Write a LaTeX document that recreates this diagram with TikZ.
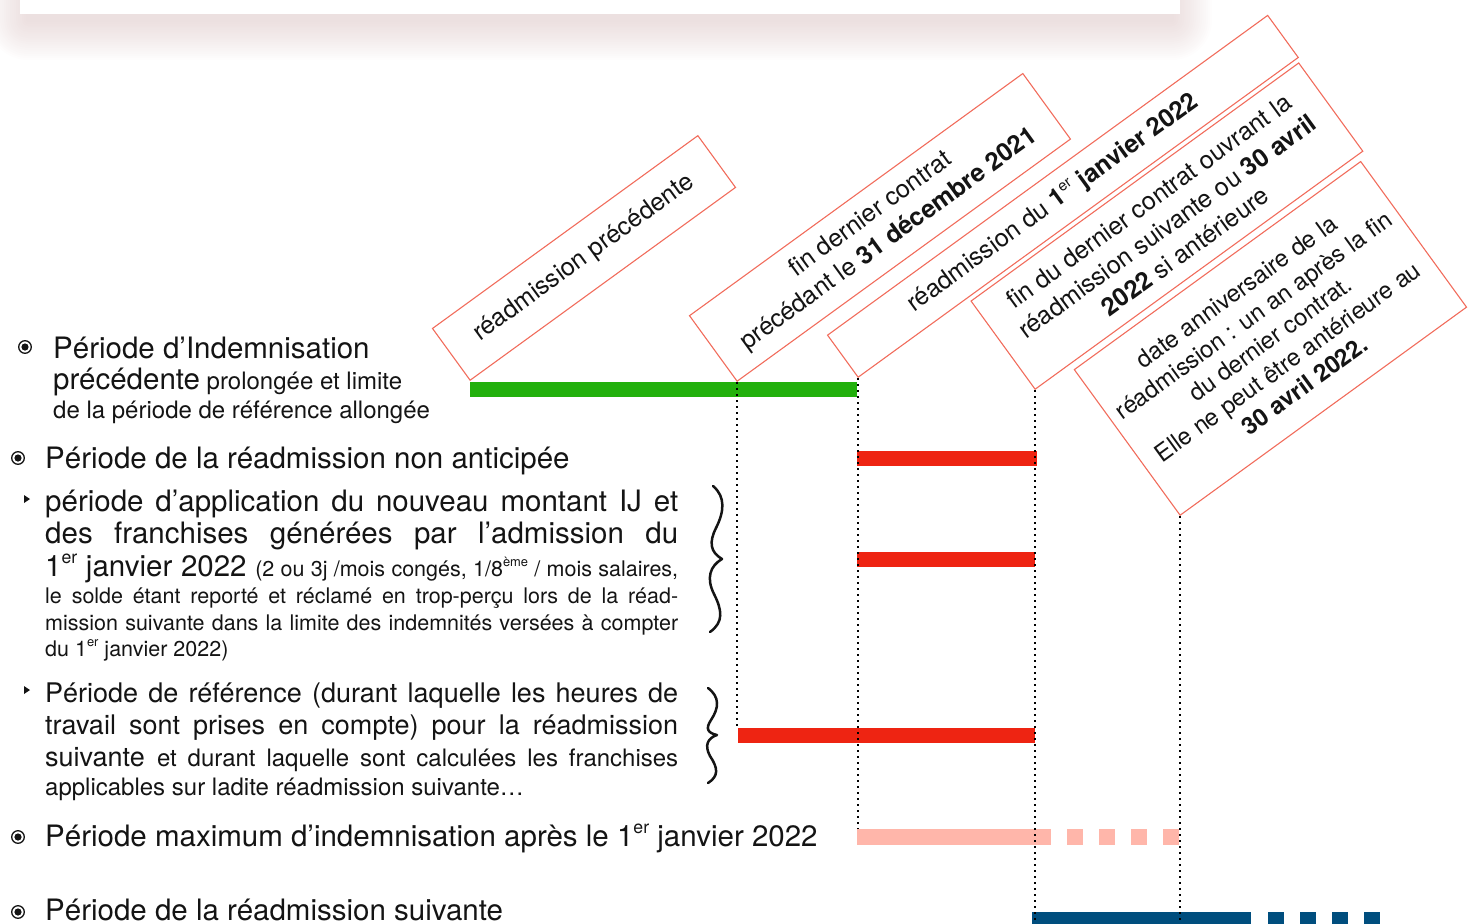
\documentclass[tikz,border=0pt]{standalone}
\usepackage{fontspec}
\setmainfont{TeX Gyre Heros}
\usepackage{graphicx}
\definecolor{greenc}{RGB}{34,176,12}
\definecolor{redc}{RGB}{238,36,18}
\definecolor{pinkc}{RGB}{255,182,170}
\definecolor{bluec}{RGB}{0,78,126}
\definecolor{boxc}{RGB}{241,108,92}
\definecolor{ink}{RGB}{20,20,20}
\definecolor{shadowc}{RGB}{205,172,172}
\newcommand\fbig{\fontsize{29.5}{35}\selectfont}
\newcommand\fmid{\fontsize{27}{32}\selectfont}
\newcommand\fsm{\fontsize{24}{28}\selectfont}
\newcommand\fxs{\fontsize{21.5}{26}\selectfont}
\newcommand\expo[1]{\raisebox{0.8ex}{\scalebox{0.6}{#1}}}
\newcommand\jline[1]{\makebox[633pt][s]{#1}}
\begin{document}
\begin{tikzpicture}[x=1pt,y=-1pt,
  txt/.style={anchor=base west, inner sep=0pt, text=ink},
  tbox/.style={draw=boxc, line width=1.1pt, rotate=36, anchor=south west, align=center, inner sep=0pt, text=ink, font=\fontsize{25}{31}\selectfont},
  dotline/.style={line width=1.6pt, dash pattern=on 1.6pt off 4.4pt, black},
  bullet/.style={line width=1.3pt, ink}]
\useasboundingbox (0,0) rectangle (1468,924);

% top card with soft shadow
\foreach \rr in {2,4,...,40}{
  \fill[shadowc, opacity=0.025, rounded corners=\rr pt] ({28-\rr},{-10-\rr}) rectangle ({1172+\rr},{20+\rr});
}
\fill[white] (20,-5) rectangle (1180,14);

% rotated boxes
\node[tbox, minimum width=328pt, minimum height=64pt] (b1) at (470,381) {réadmission précédente};
\node[tbox, minimum width=412pt, minimum height=81pt] (b2) at (737,382) {fin dernier contrat\\précédant le \textbf{31 décembre 2021}};
\node[tbox, minimum width=544pt, minimum height=52pt] (b3) at (858,378) {réadmission du \textbf{1}\expo{er} \textbf{janvier 2022}\hspace*{24pt}};
\node[tbox, minimum width=405pt, minimum height=109pt] (b4) at (1035,390) {fin du dernier contrat ouvrant la\\réadmission suivante ou \textbf{30 avril}\\\textbf{2022} si antérieure};
\node[tbox, minimum width=354pt, minimum height=180pt, font=\fontsize{24}{29}\selectfont] (b5) at (1180,516) {date anniversaire de la\\réadmission : un an après la fin\\du dernier contrat.\\Elle ne peut être antérieure au\\\textbf{30 avril 2022.}};

% bars
\fill[greenc] (470,382) rectangle (857,397);
\fill[redc] (857,451) rectangle (1037,466);
\fill[redc] (857,552) rectangle (1035,567);
\fill[redc] (738,728) rectangle (1035,743);
\fill[pinkc] (857,829) rectangle (1051,845);
\foreach \xx in {1067,1099,1131,1163}{\fill[pinkc] (\xx,829) rectangle ({\xx+16},845);}
\fill[bluec] (1032,912) rectangle (1251,924);
\foreach \xx in {1268,1300,1332,1364}{\fill[bluec] (\xx,912) rectangle ({\xx+16},924);}

% dotted guides
\coordinate (e2) at (737,728);
\coordinate (e3) at (858,829);
\coordinate (e4) at (1035,924);
\coordinate (e5) at (1180,924);
\draw[dotline] (b2.south west) -- (e2);
\draw[dotline] (b3.south west) -- (e3);
\draw[dotline] (b4.south west) -- (e4);
\draw[dotline] (b5.south west) -- (e5);

% bullets
\foreach \bx/\by in {25/347,18/458,18/837,18/912}{
  \draw[bullet] (\bx,\by) circle (6.3pt);
  \fill[ink] (\bx,\by) circle (3.6pt);
}
\fill[ink] (24,495) -- (30,499) -- (24,503) -- cycle;
\fill[ink] (24,686) -- (30,690) -- (24,694) -- cycle;

% braces
\draw[ink, line width=2.5pt, line cap=round, line join=round]
  (713,486) .. controls (726,497) and (724,512) .. (716,528)
  .. controls (709,542) and (710,552) .. (722,559)
  .. controls (710,566) and (706,578) .. (714,594)
  .. controls (722,610) and (724,622) .. (710,632);
\draw[ink, line width=2.5pt, line cap=round, line join=round]
  (708,688) .. controls (720,697) and (719,708) .. (711,720)
  .. controls (705,729) and (708,733) .. (717,735)
  .. controls (708,738) and (704,745) .. (710,756)
  .. controls (718,768) and (719,776) .. (708,783);

% left texts
\node[txt] (l1) at (53,358) {\fbig Période d’Indemnisation};
\node[txt] (l2) at (53,389) {\fbig précédente{\fsm{} prolongée et limite}};
\node[txt] (l3) at (53,418) {\fsm de la période de référence allongée};
\node[txt] (l4) at (45,468) {\fbig Période de la réadmission non anticipée};
\node[txt] (l5) at (45,511) {\jline{\fbig période d’application du nouveau montant IJ et}};
\node[txt] (l6) at (45,543) {\jline{\fbig des franchises générées par l’admission du}};
\node[txt] (l7) at (45,576) {\jline{\fbig 1\expo{er} janvier 2022 \fxs (2 ou 3j /mois congés, 1/8\expo{ème} / mois salaires,}};
\node[txt] (l8) at (45,603) {\jline{\fxs le solde étant reporté et réclamé en trop-perçu lors de la réad-}};
\node[txt] (l9) at (45,630) {\jline{\fxs mission suivante dans la limite des indemnités versées à compter}};
\node[txt] (l10) at (45,656) {\fxs du 1\expo{er} janvier 2022)};
\node[txt] (l11) at (45,702) {\jline{\fmid Période de référence (durant laquelle les heures de}};
\node[txt] (l12) at (45,734) {\jline{\fmid travail sont prises en compte) pour la réadmission}};
\node[txt] (l13) at (45,766) {\jline{\fmid suivante \fsm et durant laquelle sont calculées les franchises}};
\node[txt] (l14) at (45,795) {\fsm applicables sur ladite réadmission suivante…};
\node[txt] (l15) at (45,846) {\fbig Période maximum d’indemnisation après le 1\expo{er} janvier 2022};
\node[txt] (l16) at (45,920) {\fbig Période de la réadmission suivante};
\end{tikzpicture}
\end{document}
